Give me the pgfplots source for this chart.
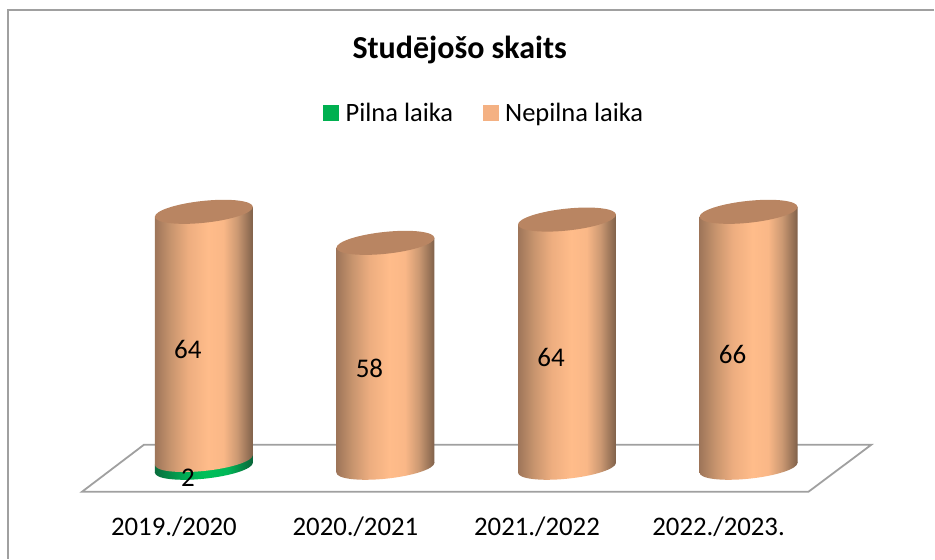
\documentclass[border=0pt]{standalone}
\usepackage{pgfplots}
\pgfplotsset{compat=1.18}
\usepackage{fontspec}
\setmainfont{Carlito}
\definecolor{ecap}{RGB}{185,133,98}
\definecolor{gframe}{RGB}{160,160,160}
\definecolor{lgreen}{RGB}{0,176,80}
\definecolor{lorange}{RGB}{244,177,131}
\pgfdeclarehorizontalshading{cylorange}{100bp}{
  rgb(0bp)=(0.62,0.46,0.35);
  rgb(25bp)=(0.62,0.46,0.35);
  rgb(33bp)=(0.78,0.58,0.43);
  rgb(42bp)=(0.93,0.68,0.50);
  rgb(52bp)=(1,0.737,0.541);
  rgb(60bp)=(0.98,0.72,0.53);
  rgb(67bp)=(0.80,0.60,0.45);
  rgb(75bp)=(0.50,0.38,0.29);
  rgb(100bp)=(0.50,0.38,0.29)}
\pgfdeclarehorizontalshading{cylgreen}{100bp}{
  rgb(0bp)=(0.04,0.43,0.24);
  rgb(25bp)=(0.04,0.43,0.24);
  rgb(40bp)=(0,0.67,0.33);
  rgb(50bp)=(0,0.75,0.35);
  rgb(62bp)=(0,0.72,0.345);
  rgb(75bp)=(0.04,0.39,0.22);
  rgb(100bp)=(0.04,0.39,0.22)}
\pgfdeclareplotmark{captop}{\pgfpathellipse{\pgfpointorigin}{\pgfqpoint{49pt}{4.9pt}}{\pgfqpoint{0pt}{11pt}}\pgfsetfillcolor{ecap}\pgfusepathqfill}
\pgfdeclareplotmark{botorange}{\pgfpathellipse{\pgfpointorigin}{\pgfqpoint{49pt}{4.9pt}}{\pgfqpoint{0pt}{11pt}}\pgfshadepath{cylorange}{0}\pgfusepath{discard}}
\pgfdeclareplotmark{botgreen}{\pgfpathellipse{\pgfpointorigin}{\pgfqpoint{49pt}{4.9pt}}{\pgfqpoint{0pt}{11pt}}\pgfshadepath{cylgreen}{0}\pgfusepath{discard}}
\begin{document}
\begin{tikzpicture}
\begin{axis}[
  scale only axis, width=935pt, height=559pt,
  xmin=-1.1227, xmax=4.023, ymin=-23.45, ymax=120.6,
  clip=false,
  axis line style={draw=none},
  major tick length=0pt,
  ymajorticks=false,
  xtick={0,1,2,3},
  xticklabels={2019./2020,2020./2021,2021./2022,2022./2023.},
  xticklabel style={font=\fontsize{26.8}{31}\selectfont, xshift=-30pt, yshift=32pt, anchor=center},
  title={Studējošo skaits},
  title style={at={(0.492,0.9)},anchor=center,font=\fontsize{32}{36}\selectfont\bfseries},
  legend style={at={(0.5185,0.798)},anchor=center,draw=none,fill=none,
    font=\fontsize{26.5}{30}\selectfont,
    legend columns=2,
    /tikz/every odd column/.append style={column sep=5pt},
    /tikz/every even column/.append style={column sep=28pt}},
  legend cell align=left,
]
% frame: left and top edges only
\addplot[draw=gframe,line width=1.4pt,forget plot] coordinates {(-1.0787,-23.45)(-1.0787,118.04)(4.023,118.04)};
% floor
\addplot[draw=gframe,line width=1.8pt,fill=white,forget plot] coordinates {(-0.671,-6.19)(3.33,-6.19)(3.676,5.93)(-0.33,5.93)} --cycle;
% green base, first category only
\addplot[only marks,draw=none,mark=botgreen,forget plot] coordinates {(0,0)};
\addplot[shade,shading=cylgreen,draw=none,forget plot] coordinates {(-0.2697,-1.29)(0.2697,1.29)(0.2697,3.29)(-0.2697,0.71)} --cycle;
% orange bases
\addplot[only marks,draw=none,mark=botorange,forget plot] coordinates {(0,2)(1,0)(2,0)(3,0)};
% orange bodies
\addplot[shade,shading=cylorange,draw=none,forget plot] coordinates {(-0.2697,0.71)(0.2697,3.29)(0.2697,67.29)(-0.2697,64.71)} --cycle;
\addplot[shade,shading=cylorange,draw=none,forget plot] coordinates {(0.7303,-1.29)(1.2697,1.29)(1.2697,59.29)(0.7303,56.71)} --cycle;
\addplot[shade,shading=cylorange,draw=none,forget plot] coordinates {(1.7303,-1.29)(2.2697,1.29)(2.2697,65.29)(1.7303,62.71)} --cycle;
\addplot[shade,shading=cylorange,draw=none,forget plot] coordinates {(2.7303,-1.29)(3.2697,1.29)(3.2697,67.29)(2.7303,64.71)} --cycle;
% tops
\addplot[only marks,draw=none,mark=captop,forget plot] coordinates {(0,66)(1,58)(2,64)(3,66)};
% data labels
\addplot[draw=none,mark=none,forget plot,point meta=explicit symbolic,
  nodes near coords,
  every node near coord/.append style={anchor=center,font=\fontsize{27}{31}\selectfont,text=black,inner sep=0pt}]
  table[meta=l] {
x y l
-0.088 30.4 64
0.912 25.5 58
1.912 28.35 64
2.912 29.1 66
-0.088 -2.6 2
};
\addlegendimage{only marks,mark=square*,mark size=7.5pt,color=lgreen}
\addlegendentry{Pilna laika}
\addlegendimage{only marks,mark=square*,mark size=7.5pt,color=lorange}
\addlegendentry{Nepilna laika}
\end{axis}
\end{tikzpicture}
\end{document}
